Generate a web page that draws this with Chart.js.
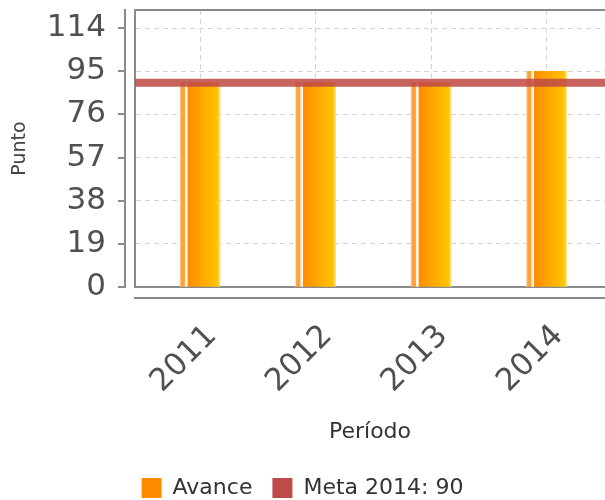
<!DOCTYPE html>
<html>
<head>
<meta charset="utf-8">
<script src="https://cdn.jsdelivr.net/npm/chart.js@4/dist/chart.umd.min.js"></script>
<style>
  html, body { margin: 0; padding: 0; background: #fff; overflow: hidden; }
  canvas { display: block; }
</style>
</head>
<body>
<canvas id="chart" width="605" height="500"></canvas>
<script>
// datos
const categories = ['2011', '2012', '2013', '2014'];
const avance = [90, 90, 90, 95];
const metaValue = 90;
const yTicks = [0, 19, 38, 57, 76, 95, 114];

const yMax = 122;
const xMin = -0.563, xMax = 3.506;
const BAR_W = 40;
const FONT = 'DejaVu Sans';
const AXIS = '#8a8a8a';
const GRID = '#d3d3d3';

// degradado de cada barra (franja + hueco + barra)
function barFill(c) {
    const chart = c.chart;
    if (!chart.chartArea || !c.parsed) return '#FF8C00';
    const cx = chart.scales.x.getPixelForValue(c.parsed.x);
    const x0 = cx - BAR_W / 2;
    const g = chart.ctx.createLinearGradient(x0, 0, x0 + BAR_W, 0);
    g.addColorStop(0.00, '#FFD7A8');
    g.addColorStop(0.03, '#FFA23A');
    g.addColorStop(0.11, '#FFA23A');
    g.addColorStop(0.13, '#FFF4E6');
    g.addColorStop(0.18, '#FFF4E6');
    g.addColorStop(0.20, '#FF8C00');
    g.addColorStop(0.93, '#FFC400');
    g.addColorStop(1.00, '#FFDD80');
    return g;
}

const tickList = arr => s => { s.ticks = arr.map(v => ({ value: v })); };
const noPad = s => { s.paddingTop = 0; s.paddingBottom = 0; s.paddingLeft = 0; s.paddingRight = 0; };

const topBorder = {
    id: 'topBorder',
    afterDraw(chart) {
        const { ctx, chartArea } = chart;
        ctx.save();
        ctx.strokeStyle = AXIS;
        ctx.lineWidth = 2;
        ctx.beginPath();
        ctx.moveTo(chartArea.left - 1, chartArea.top);
        ctx.lineTo(chartArea.right, chartArea.top);
        ctx.stroke();
        ctx.restore();
    }
};

new Chart(document.getElementById('chart'), {
    type: 'bar',
    data: {
        datasets: [
            {
                label: 'Avance',
                data: categories.map((c, i) => ({ x: i, y: avance[i] })),
                backgroundColor: barFill,
                barThickness: BAR_W,
                order: 2
            },
            {
                type: 'line',
                label: `Meta 2014: ${metaValue}`,
                data: [{ x: xMin, y: metaValue }, { x: xMax, y: metaValue }],
                borderColor: 'rgba(190, 72, 68, 0.85)',
                backgroundColor: '#BE4B48',
                borderWidth: 8,
                pointRadius: 0,
                order: 1
            }
        ]
    },
    options: {
        responsive: false,
        animation: false,
        layout: { padding: { top: 10, right: 0, bottom: -9, left: 0 } },
        plugins: {
            tooltip: { enabled: false },
            legend: {
                position: 'bottom',
                labels: {
                    font: { family: FONT, size: 22 },
                    color: '#333',
                    boxWidth: 20,
                    boxHeight: 20,
                    padding: 20,
                    sort: (a, b) => a.datasetIndex - b.datasetIndex,
                    generateLabels: chart => {
                        const items = Chart.defaults.plugins.legend.labels.generateLabels(chart);
                        const fills = ['#FF8C00', '#BE4B48'];
                        items.forEach(it => {
                            it.fillStyle = fills[it.datasetIndex];
                            it.strokeStyle = fills[it.datasetIndex];
                            it.lineWidth = 0;
                        });
                        return items;
                    }
                }
            }
        },
        scales: {
            x: {
                type: 'linear', position: 'bottom', weight: 0,
                min: xMin, max: xMax,
                offset: false,
                afterBuildTicks: tickList(categories.map((c, i) => i)),
                afterFit: s => { s.height = 11; noPad(s); },
                ticks: { display: false },
                grid: { color: GRID, drawTicks: false, offset: false },
                border: { color: AXIS, width: 2, dash: [5, 4] }
            },
            xAxis: {
                type: 'linear', position: 'bottom', weight: 1,
                min: xMin, max: xMax,
                offset: false,
                afterBuildTicks: tickList(categories.map((c, i) => i)),
                afterFit: s => { s.height = 159; noPad(s); },
                ticks: {
                    callback: v => categories[v],
                    minRotation: 45, maxRotation: 45,
                    font: { family: FONT, size: 31 },
                    color: '#505050',
                    padding: 20,
                    labelOffset: 12
                },
                grid: { drawOnChartArea: false, drawTicks: false, offset: false },
                border: { color: AXIS, width: 2 },
                title: {
                    display: true, text: 'Período',
                    font: { family: FONT, size: 22 }, color: '#333',
                    padding: { top: 0, bottom: 12 }
                }
            },
            y: {
                type: 'linear', position: 'left', weight: 0,
                min: 0, max: yMax,
                afterBuildTicks: tickList(yTicks),
                afterFit: s => { s.width = 10; noPad(s); },
                ticks: { display: false },
                grid: { color: GRID, drawTicks: false },
                border: { color: AXIS, width: 2, dash: [5, 4] }
            },
            yAxis: {
                type: 'linear', position: 'left', weight: 1,
                min: 0, max: yMax,
                afterBuildTicks: tickList(yTicks),
                afterFit: s => { s.width = 125; noPad(s); },
                ticks: {
                    font: { family: FONT, size: 31 },
                    color: '#505050',
                    padding: 12
                },
                grid: { drawOnChartArea: false, drawTicks: true, tickLength: 7, color: AXIS, lineWidth: 2 },
                border: { color: AXIS, width: 2 },
                title: {
                    display: true, text: 'Punto',
                    font: { family: FONT, size: 19 }, color: '#444',
                    padding: { top: 9, bottom: 0 }
                }
            }
        }
    },
    plugins: [topBorder]
});
</script>
</body>
</html>
